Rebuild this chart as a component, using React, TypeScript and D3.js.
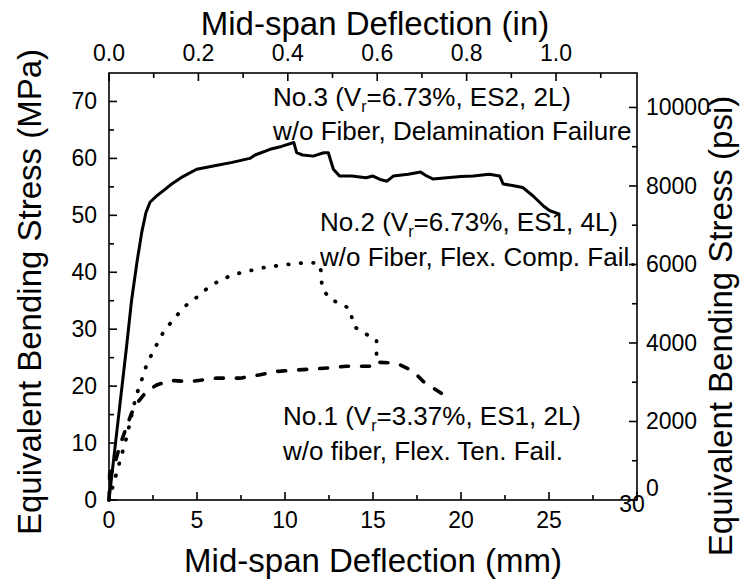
import * as d3 from 'd3';
import React from 'react';

// deflection (mm), stress (MPa)
const no3 = [
  [0, 0], [0.5, 13.5], [1.0, 27], [1.28, 35], [1.6, 42], [1.86, 47], [2.1, 50.5], [2.33, 52.3],
  [2.7, 53.4], [3.2, 54.6], [3.56, 55.5], [4.2, 56.8], [4.98, 58.1], [6.0, 58.7], [7.0, 59.3],
  [8.0, 60.0], [8.3, 60.6], [9.15, 61.6], [9.8, 62.1], [10.5, 62.8], [10.66, 61.0], [11.0, 60.6],
  [11.6, 60.4], [12.2, 61.0], [12.46, 61.0], [12.75, 58.1], [13.1, 56.9], [13.8, 56.9], [14.6, 56.6],
  [15.0, 56.9], [15.4, 56.3], [15.8, 56.0], [16.15, 56.9], [17.0, 57.2], [17.7, 57.6], [18.0, 57.0],
  [18.4, 56.4], [19.2, 56.6], [20.0, 56.8], [20.7, 56.9], [21.6, 57.2], [22.2, 56.9], [22.4, 55.5],
  [23.0, 55.2], [23.5, 54.9], [24.1, 53.4], [24.7, 51.6], [25.05, 50.8], [25.6, 50.2],
];
const no2 = [
  [0, 0], [0.5, 5.5], [1.0, 11], [1.53, 18.2], [1.86, 21.1], [2.14, 23.8], [2.61, 26.7], [3.09, 29.5],
  [3.65, 31.7], [4.3, 34.0], [5.07, 35.8], [5.74, 37.6], [6.4, 38.7], [7.06, 39.6], [7.9, 40.2],
  [8.77, 40.8], [9.7, 41.2], [10.46, 41.5], [11.3, 41.7], [11.9, 41.6], [12.05, 40.2], [12.1, 37.3],
  [12.56, 35.2], [13.2, 34.5], [13.7, 33.5], [13.9, 30.5], [14.5, 29.3], [15.2, 28.2], [15.2, 25.0],
];
const no1 = [
  [0, 0], [0.04, 4.7], [0.34, 6.5], [0.6, 9.4], [1.0, 12.9], [1.29, 15.3], [1.67, 17.3], [2.14, 19.1],
  [2.71, 20.2], [3.47, 21.0], [4.6, 20.8], [6.1, 21.4], [7.44, 21.4], [8.6, 22.0], [9.6, 22.6],
  [11.0, 22.9], [12.5, 23.2], [13.5, 23.5], [15.0, 23.5], [15.1, 24.2], [15.97, 24.1], [16.5, 23.8],
  [17.3, 22.6], [17.86, 20.8], [19.0, 18.5],
];

const mmTicks = [0, 5, 10, 15, 20, 25, 30];
const mmMinor = [2.5, 7.5, 12.5, 17.5, 22.5, 27.5];
const inTicks = [0, 0.2, 0.4, 0.6, 0.8, 1.0];
const inMinor = [0.1, 0.3, 0.5, 0.7, 0.9, 1.1];
const mpaTicks = [0, 10, 20, 30, 40, 50, 60, 70];
const mpaMinor = [5, 15, 25, 35, 45, 55, 65];
const psiTicks = [0, 2000, 4000, 6000, 8000, 10000];
const psiMinor = [1000, 3000, 5000, 7000, 9000];

const MM_PER_IN = 25.4;
const PSI_PER_MPA = 145.038;

const font = '"Liberation Sans", Arial, sans-serif';

export default function App() {
  const left = 109, right = 637, top = 73, bottom = 500;
  const x = d3.scaleLinear().domain([0, 30]).range([left, right]);
  const y = d3.scaleLinear().domain([0, 75]).range([bottom, top]);
  const xin = d3.scaleLinear().domain([0, 30 / MM_PER_IN]).range([left, right]);
  const ypsi = d3.scaleLinear().domain([0, 75 * PSI_PER_MPA]).range([bottom, top]);

  const line = d3.line<number[]>().x(d => x(d[0])).y(d => y(d[1]));

  const major = 8, minor = 5;
  const ax = { stroke: '#000', strokeWidth: 1.6 };
  const tickFont = 23;

  return (
    <svg width={742} height={582} style={{ position: 'absolute', left: 0, top: 0, background: '#fff' }}
      fontFamily={font}>
      <rect x={0} y={0} width={742} height={582} fill="#fff" />

      {/* curves */}
      <path d={line(no3) || ''} fill="none" stroke="#000" strokeWidth={3} strokeLinejoin="round" />
      <path d={line(no2) || ''} fill="none" stroke="#000" strokeWidth={3.8} strokeLinecap="round"
        strokeDasharray="0.5 12" />
      <path d={line(no1) || ''} fill="none" stroke="#000" strokeWidth={3.6} strokeLinecap="round"
        strokeDasharray="8 13" />

      {/* frame */}
      <rect x={left} y={top} width={right - left} height={bottom - top} fill="none" {...ax} />

      {/* bottom axis */}
      {mmTicks.map(t => <line key={'bm' + t} x1={x(t)} x2={x(t)} y1={bottom} y2={bottom - major} {...ax} />)}
      {mmMinor.map(t => <line key={'bn' + t} x1={x(t)} x2={x(t)} y1={bottom} y2={bottom - minor} {...ax} />)}
      {mmTicks.map(t => (
        <text key={'bl' + t} x={t === 30 ? x(t) - 5 : x(t)} y={t === 30 ? 512 : 528} fontSize={tickFont}
          textAnchor="middle">{t}</text>
      ))}
      <text x={373} y={572} fontSize={33} textAnchor="middle">Mid-span Deflection (mm)</text>

      {/* top axis */}
      {inTicks.map(t => <line key={'tm' + t} x1={xin(t)} x2={xin(t)} y1={top} y2={top + major} {...ax} />)}
      {inMinor.map(t => <line key={'tn' + t} x1={xin(t)} x2={xin(t)} y1={top} y2={top + minor} {...ax} />)}
      {inTicks.map(t => (
        <text key={'tl' + t} x={xin(t)} y={61} fontSize={tickFont} textAnchor="middle">{d3.format('.1f')(t)}</text>
      ))}
      <text x={375} y={35} fontSize={33} textAnchor="middle">Mid-span Deflection (in)</text>

      {/* left axis */}
      {mpaTicks.map(t => <line key={'lm' + t} x1={left} x2={left + major} y1={y(t)} y2={y(t)} {...ax} />)}
      {mpaMinor.map(t => <line key={'ln' + t} x1={left} x2={left + minor} y1={y(t)} y2={y(t)} {...ax} />)}
      {mpaTicks.map(t => (
        <text key={'ll' + t} x={97} y={y(t) + 8} fontSize={tickFont} textAnchor="end">{t}</text>
      ))}
      <text transform="translate(41,292) rotate(-90)" fontSize={33} textAnchor="middle">
        Equivalent Bending Stress (MPa)
      </text>

      {/* right axis */}
      {psiTicks.map(t => <line key={'rm' + t} x1={right} x2={right - major} y1={ypsi(t)} y2={ypsi(t)} {...ax} />)}
      {psiMinor.map(t => <line key={'rn' + t} x1={right} x2={right - minor} y1={ypsi(t)} y2={ypsi(t)} {...ax} />)}
      {psiTicks.map(t => (
        <text key={'rl' + t} x={646} y={t === 0 ? 496 : ypsi(t) + 8} fontSize={tickFont} textAnchor="start">{t}</text>
      ))}
      <text transform="translate(732,326) rotate(-90)" fontSize={33} textAnchor="middle">
        Equivalent Bending Stress (psi)
      </text>

      {/* annotations */}
      <g fontSize={26}>
        <text x={273} y={106}>
          No.3 (V<tspan fontSize={16} dy={6}>r</tspan><tspan dy={-6}>=6.73%, ES2, 2L)</tspan>
        </text>
        <text x={273} y={140}>w/o Fiber, Delamination Failure</text>
        <text x={320} y={231}>
          No.2 (V<tspan fontSize={16} dy={6}>r</tspan><tspan dy={-6}>=6.73%, ES1, 4L)</tspan>
        </text>
        <text x={320} y={266}>w/o Fiber, Flex. Comp. Fail.</text>
        <text x={283} y={425}>
          No.1 (V<tspan fontSize={16} dy={6}>r</tspan><tspan dy={-6}>=3.37%, ES1, 2L)</tspan>
        </text>
        <text x={283} y={460}>w/o fiber, Flex. Ten. Fail.</text>
      </g>
    </svg>
  );
}
